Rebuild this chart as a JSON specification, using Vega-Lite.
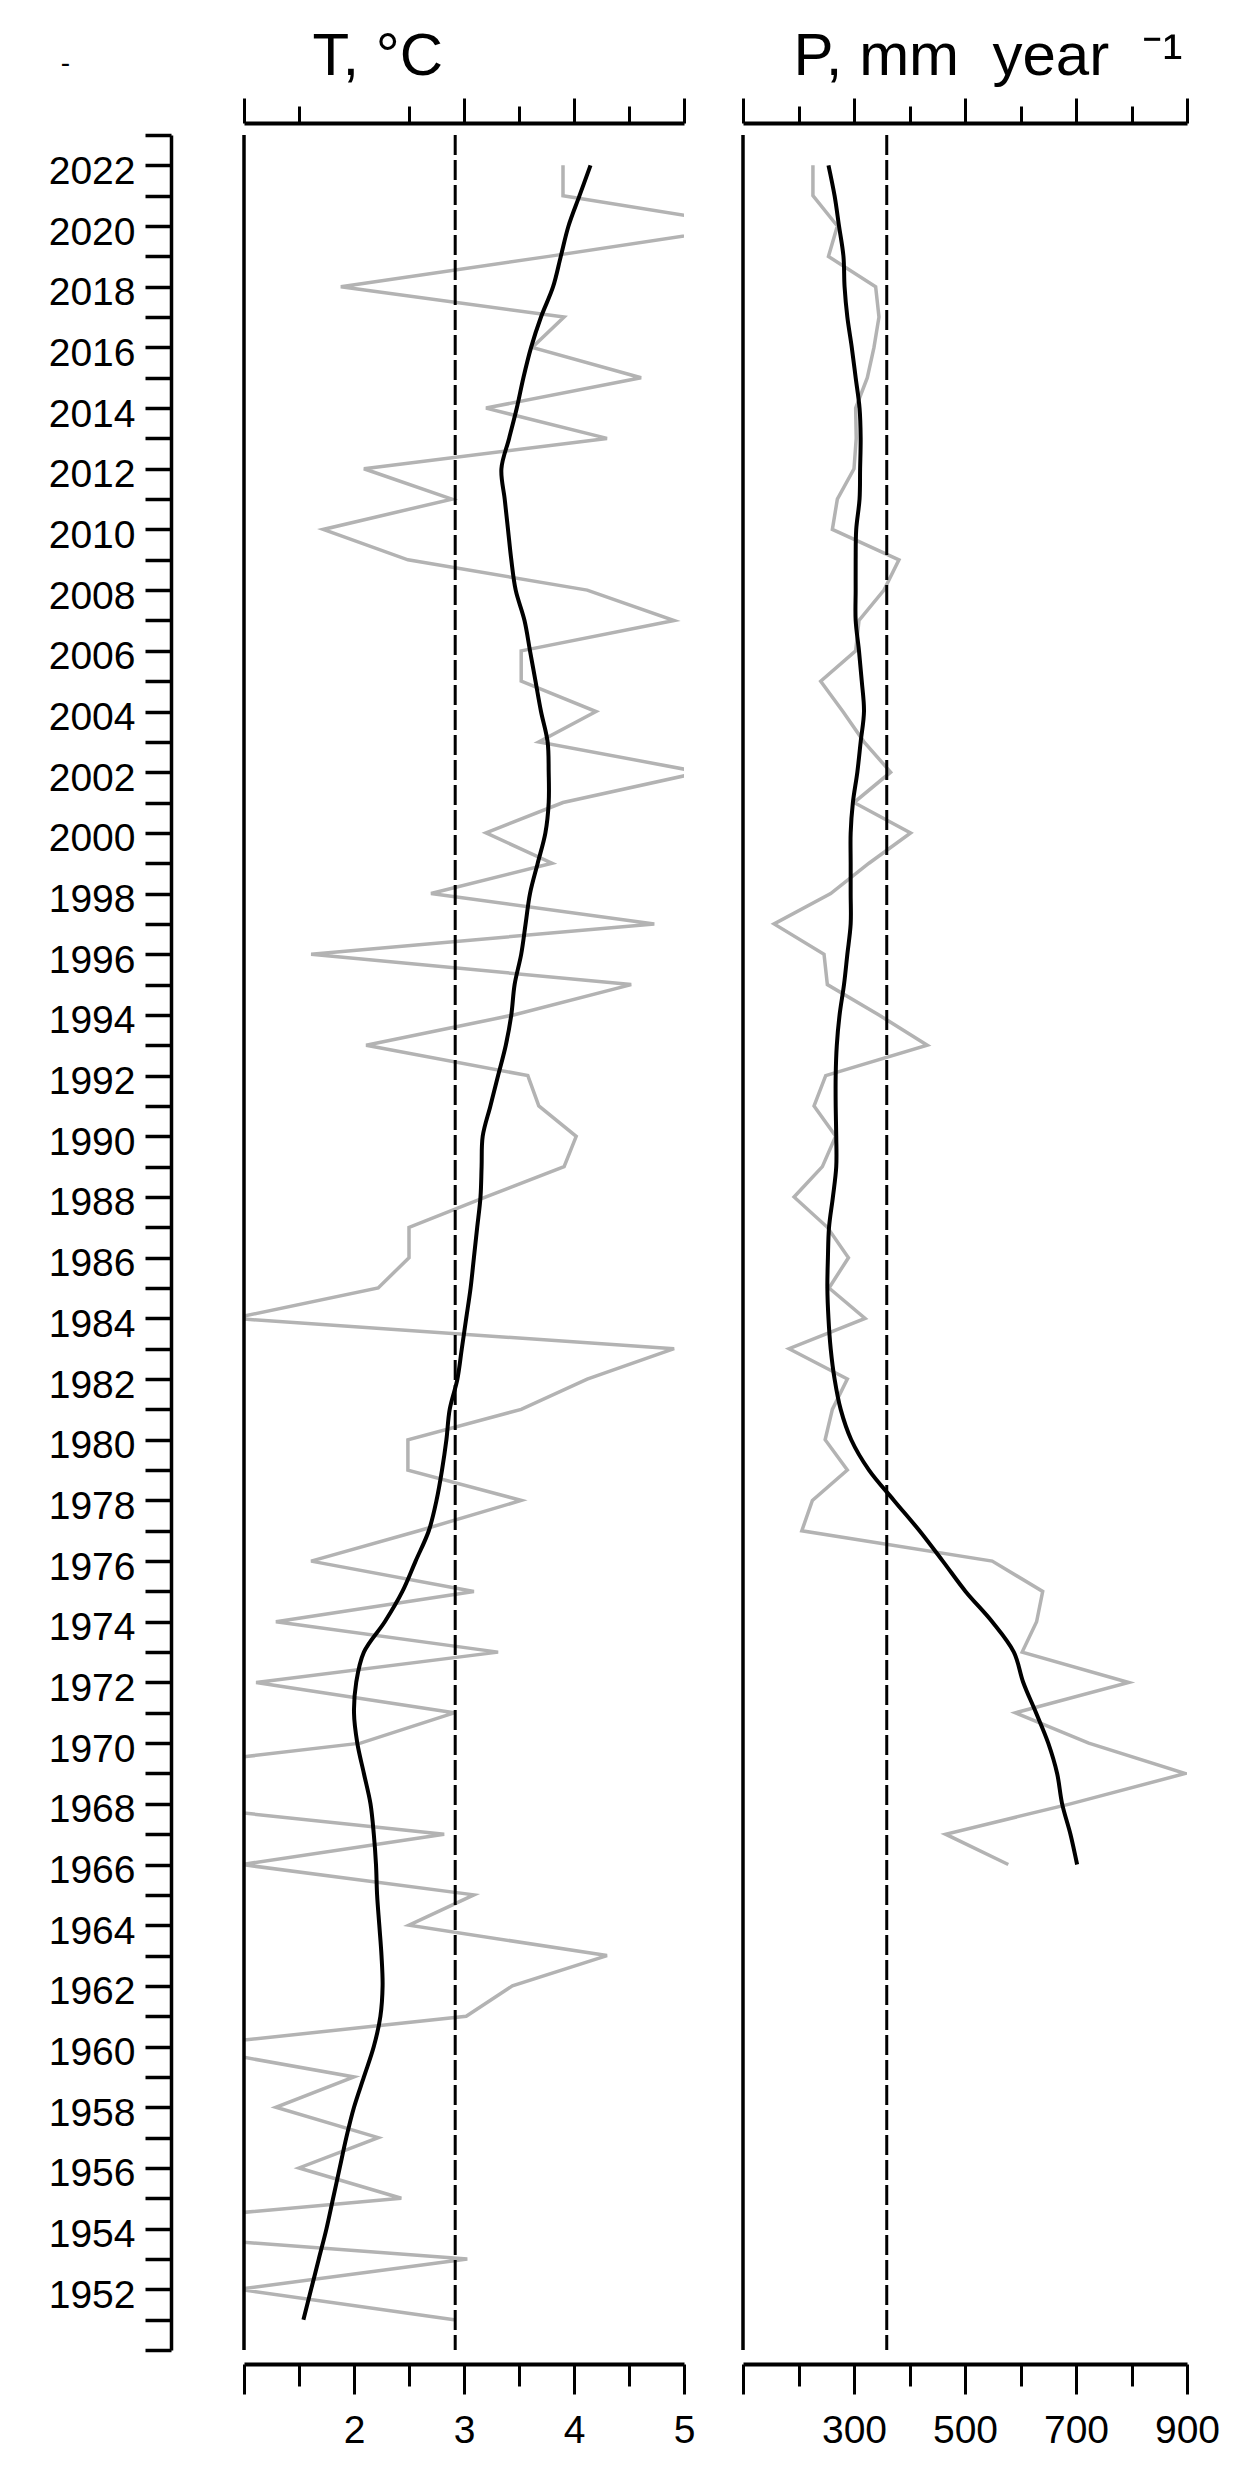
{
  "$schema": "https://vega.github.io/schema/vega-lite/v6.json",
  "background": "white",
  "padding": {"left": 48, "top": 26, "right": 10, "bottom": 10},
  "bounds": "flush",
  "spacing": 59,
  "config": {
    "view": {"stroke": null},
    "font": "Liberation Sans",
    "axis": {"grid": false, "labelFont": "Liberation Sans", "titleFont": "Liberation Sans", "labelColor": "#000", "titleColor": "#000", "domainColor": "#000", "tickColor": "#000", "labelFlush": false, "labelOverlap": false, "labelBound": false, "titleFontWeight": "normal"}
  },
  "datasets": {
    "temp": [
      {"year": 1951, "annual": 2.91, "smooth": 1.54},
      {"year": 1952, "annual": 0.95, "smooth": 1.61},
      {"year": 1953, "annual": 3.03, "smooth": 1.68},
      {"year": 1954, "annual": -0.65, "smooth": 1.75},
      {"year": 1955, "annual": 2.43, "smooth": 1.81},
      {"year": 1956, "annual": 1.50, "smooth": 1.87},
      {"year": 1957, "annual": 2.22, "smooth": 1.93},
      {"year": 1958, "annual": 1.29, "smooth": 2.00},
      {"year": 1959, "annual": 2.00, "smooth": 2.09},
      {"year": 1960, "annual": 0.45, "smooth": 2.18},
      {"year": 1961, "annual": 3.02, "smooth": 2.24},
      {"year": 1962, "annual": 3.44, "smooth": 2.26},
      {"year": 1963, "annual": 4.30, "smooth": 2.25},
      {"year": 1964, "annual": 2.50, "smooth": 2.23},
      {"year": 1965, "annual": 3.09, "smooth": 2.21},
      {"year": 1966, "annual": 0.98, "smooth": 2.20},
      {"year": 1967, "annual": 2.82, "smooth": 2.18},
      {"year": 1968, "annual": 0.20, "smooth": 2.15},
      {"year": 1969, "annual": -0.30, "smooth": 2.09},
      {"year": 1970, "annual": 2.06, "smooth": 2.03},
      {"year": 1971, "annual": 2.91, "smooth": 2.00},
      {"year": 1972, "annual": 1.11, "smooth": 2.02},
      {"year": 1973, "annual": 3.31, "smooth": 2.09},
      {"year": 1974, "annual": 1.29, "smooth": 2.28},
      {"year": 1975, "annual": 3.09, "smooth": 2.44},
      {"year": 1976, "annual": 1.61, "smooth": 2.56},
      {"year": 1977, "annual": 2.59, "smooth": 2.68},
      {"year": 1978, "annual": 3.52, "smooth": 2.75},
      {"year": 1979, "annual": 2.49, "smooth": 2.80},
      {"year": 1980, "annual": 2.49, "smooth": 2.84},
      {"year": 1981, "annual": 3.52, "smooth": 2.87},
      {"year": 1982, "annual": 4.12, "smooth": 2.94},
      {"year": 1983, "annual": 4.91, "smooth": 2.98},
      {"year": 1984, "annual": 0.90, "smooth": 3.02},
      {"year": 1985, "annual": 2.22, "smooth": 3.06},
      {"year": 1986, "annual": 2.50, "smooth": 3.09},
      {"year": 1987, "annual": 2.50, "smooth": 3.12},
      {"year": 1988, "annual": 3.20, "smooth": 3.15},
      {"year": 1989, "annual": 3.91, "smooth": 3.16},
      {"year": 1990, "annual": 4.02, "smooth": 3.17},
      {"year": 1991, "annual": 3.68, "smooth": 3.24},
      {"year": 1992, "annual": 3.58, "smooth": 3.31},
      {"year": 1993, "annual": 2.11, "smooth": 3.38},
      {"year": 1994, "annual": 3.45, "smooth": 3.43},
      {"year": 1995, "annual": 4.52, "smooth": 3.46},
      {"year": 1996, "annual": 1.61, "smooth": 3.52},
      {"year": 1997, "annual": 4.73, "smooth": 3.56},
      {"year": 1998, "annual": 2.70, "smooth": 3.60},
      {"year": 1999, "annual": 3.80, "smooth": 3.67},
      {"year": 2000, "annual": 3.20, "smooth": 3.74},
      {"year": 2001, "annual": 3.90, "smooth": 3.77},
      {"year": 2002, "annual": 5.15, "smooth": 3.77},
      {"year": 2003, "annual": 3.68, "smooth": 3.76},
      {"year": 2004, "annual": 4.20, "smooth": 3.70},
      {"year": 2005, "annual": 3.52, "smooth": 3.65},
      {"year": 2006, "annual": 3.52, "smooth": 3.60},
      {"year": 2007, "annual": 4.91, "smooth": 3.55},
      {"year": 2008, "annual": 4.12, "smooth": 3.47},
      {"year": 2009, "annual": 2.49, "smooth": 3.43},
      {"year": 2010, "annual": 1.72, "smooth": 3.40},
      {"year": 2011, "annual": 2.89, "smooth": 3.37},
      {"year": 2012, "annual": 2.09, "smooth": 3.34},
      {"year": 2013, "annual": 4.30, "smooth": 3.41},
      {"year": 2014, "annual": 3.20, "smooth": 3.48},
      {"year": 2015, "annual": 4.61, "smooth": 3.54},
      {"year": 2016, "annual": 3.62, "smooth": 3.61},
      {"year": 2017, "annual": 3.91, "smooth": 3.70},
      {"year": 2018, "annual": 1.88, "smooth": 3.81},
      {"year": 2019, "annual": 3.77, "smooth": 3.88},
      {"year": 2020, "annual": 5.60, "smooth": 3.95},
      {"year": 2021, "annual": 3.90, "smooth": 4.05},
      {"year": 2022, "annual": 3.90, "smooth": 4.15}
    ],
    "precip": [
      {"year": 1966, "annual": 578, "smooth": 702},
      {"year": 1967, "annual": 465, "smooth": 690},
      {"year": 1968, "annual": 690, "smooth": 675},
      {"year": 1969, "annual": 897, "smooth": 666},
      {"year": 1970, "annual": 723, "smooth": 650},
      {"year": 1971, "annual": 591, "smooth": 628},
      {"year": 1972, "annual": 795, "smooth": 605},
      {"year": 1973, "annual": 603, "smooth": 588},
      {"year": 1974, "annual": 629, "smooth": 549},
      {"year": 1975, "annual": 640, "smooth": 501},
      {"year": 1976, "annual": 549, "smooth": 460},
      {"year": 1977, "annual": 206, "smooth": 418},
      {"year": 1978, "annual": 225, "smooth": 372},
      {"year": 1979, "annual": 288, "smooth": 327},
      {"year": 1980, "annual": 248, "smooth": 295},
      {"year": 1981, "annual": 261, "smooth": 276},
      {"year": 1982, "annual": 288, "smooth": 265},
      {"year": 1983, "annual": 183, "smooth": 258},
      {"year": 1984, "annual": 320, "smooth": 254},
      {"year": 1985, "annual": 255, "smooth": 252},
      {"year": 1986, "annual": 290, "smooth": 253},
      {"year": 1987, "annual": 252, "smooth": 255},
      {"year": 1988, "annual": 192, "smooth": 262},
      {"year": 1989, "annual": 243, "smooth": 268},
      {"year": 1990, "annual": 267, "smooth": 268},
      {"year": 1991, "annual": 228, "smooth": 267},
      {"year": 1992, "annual": 249, "smooth": 267},
      {"year": 1993, "annual": 432, "smooth": 269},
      {"year": 1994, "annual": 345, "smooth": 274},
      {"year": 1995, "annual": 252, "smooth": 282},
      {"year": 1996, "annual": 246, "smooth": 288},
      {"year": 1997, "annual": 156, "smooth": 294},
      {"year": 1998, "annual": 258, "smooth": 294},
      {"year": 1999, "annual": 327, "smooth": 294},
      {"year": 2000, "annual": 402, "smooth": 294},
      {"year": 2001, "annual": 300, "smooth": 298},
      {"year": 2002, "annual": 366, "smooth": 306},
      {"year": 2003, "annual": 318, "smooth": 312},
      {"year": 2004, "annual": 280, "smooth": 318},
      {"year": 2005, "annual": 240, "smooth": 314},
      {"year": 2006, "annual": 303, "smooth": 309},
      {"year": 2007, "annual": 309, "smooth": 303},
      {"year": 2008, "annual": 354, "smooth": 303},
      {"year": 2009, "annual": 381, "smooth": 303},
      {"year": 2010, "annual": 261, "smooth": 304},
      {"year": 2011, "annual": 270, "smooth": 310},
      {"year": 2012, "annual": 300, "smooth": 311},
      {"year": 2013, "annual": 304, "smooth": 312},
      {"year": 2014, "annual": 303, "smooth": 310},
      {"year": 2015, "annual": 324, "smooth": 303},
      {"year": 2016, "annual": 336, "smooth": 296},
      {"year": 2017, "annual": 345, "smooth": 288},
      {"year": 2018, "annual": 339, "smooth": 283},
      {"year": 2019, "annual": 254, "smooth": 281},
      {"year": 2020, "annual": 270, "smooth": 273},
      {"year": 2021, "annual": 226, "smooth": 265},
      {"year": 2022, "annual": 226, "smooth": 254}
    ],
    "means": [{"T": 2.92, "P": 359}]
  },
  "hconcat": [
    {
      "width": 440,
      "height": 2215,
      "resolve": {"axis": {"x": "independent"}},
      "layer": [
        {
          "data": {"name": "temp"},
          "mark": {"type": "line", "color": "#b3b3b3", "strokeWidth": 3.5, "clip": true},
          "encoding": {
            "x": {"field": "annual", "type": "quantitative", "scale": {"domain": [1, 5], "nice": false, "zero": false},
              "axis": {"orient": "bottom", "offset": 14, "values": [1, 2, 3, 4, 5], "tickSize": 30, "tickWidth": 3, "domainWidth": 4, "labelFontSize": 39, "labelPadding": 17, "labelExpr": "datum.value == 1 ? '' : datum.label", "title": null}},
            "y": {"field": "year", "type": "quantitative", "scale": {"domain": [1950, 2023], "nice": false, "zero": false},
              "axis": {"orient": "left", "offset": 73, "values": [1950,1951,1952,1953,1954,1955,1956,1957,1958,1959,1960,1961,1962,1963,1964,1965,1966,1967,1968,1969,1970,1971,1972,1973,1974,1975,1976,1977,1978,1979,1980,1981,1982,1983,1984,1985,1986,1987,1988,1989,1990,1991,1992,1993,1994,1995,1996,1997,1998,1999,2000,2001,2002,2003,2004,2005,2006,2007,2008,2009,2010,2011,2012,2013,2014,2015,2016,2017,2018,2019,2020,2021,2022,2023], "format": "d", "labelExpr": "datum.value % 2 == 0 && datum.value > 1950 ? datum.label : ''", "tickSize": 26, "tickWidth": 3.5, "domainWidth": 3.5, "labelFontSize": 39, "labelPadding": 10, "labelOffset": 6, "title": "-", "titleAngle": 0, "titleX": -106, "titleY": -72, "titleAlign": "center", "titleBaseline": "middle", "titleFontSize": 28}},
            "order": {"field": "year", "type": "quantitative"}
          }
        },
        {
          "data": {"name": "temp"},
          "mark": {"type": "line", "color": "#000000", "strokeWidth": 4, "interpolate": "catmull-rom", "clip": true},
          "encoding": {
            "x": {"field": "smooth", "type": "quantitative", "scale": {"domain": [1, 5], "nice": false, "zero": false},
              "axis": {"orient": "bottom", "offset": 14, "values": [1.5, 2.5, 3.5, 4.5], "tickSize": 22, "tickWidth": 3, "domain": false, "labels": false, "title": null}},
            "y": {"field": "year", "type": "quantitative", "scale": {"domain": [1950, 2023], "nice": false, "zero": false},
              "axis": {"orient": "left", "offset": 73, "values": [1950,1951,1952,1953,1954,1955,1956,1957,1958,1959,1960,1961,1962,1963,1964,1965,1966,1967,1968,1969,1970,1971,1972,1973,1974,1975,1976,1977,1978,1979,1980,1981,1982,1983,1984,1985,1986,1987,1988,1989,1990,1991,1992,1993,1994,1995,1996,1997,1998,1999,2000,2001,2002,2003,2004,2005,2006,2007,2008,2009,2010,2011,2012,2013,2014,2015,2016,2017,2018,2019,2020,2021,2022,2023], "format": "d", "labelExpr": "datum.value % 2 == 0 && datum.value > 1950 ? datum.label : ''", "tickSize": 26, "tickWidth": 3.5, "domainWidth": 3.5, "labelFontSize": 39, "labelPadding": 10, "labelOffset": 6, "title": "-", "titleAngle": 0, "titleX": -106, "titleY": -72, "titleAlign": "center", "titleBaseline": "middle", "titleFontSize": 28}},
            "order": {"field": "year", "type": "quantitative"}
          }
        },
        {
          "data": {"name": "means"},
          "mark": {"type": "rule", "color": "#000000", "strokeWidth": 3, "strokeDash": [20, 5]},
          "encoding": {
            "x": {"field": "T", "type": "quantitative", "scale": {"domain": [1, 5], "nice": false, "zero": false},
              "axis": {"orient": "top", "offset": 12, "values": [1, 3, 4, 5], "tickSize": 25, "tickWidth": 3, "domainWidth": 4, "labels": false, "title": "T, °C", "titleFontSize": 60, "titleX": 68, "titleY": -49, "titleAlign": "left", "titleBaseline": "alphabetic"}}
          }
        },
        {
          "data": {"name": "means"},
          "mark": {"type": "rule", "color": "#000000", "strokeWidth": 3.5},
          "encoding": {
            "x": {"datum": 1, "type": "quantitative", "scale": {"domain": [1, 5], "nice": false, "zero": false},
              "axis": {"orient": "top", "offset": 12, "values": [1.5, 2.5, 3.5, 4.5], "tickSize": 17, "tickWidth": 3, "domain": false, "labels": false, "title": null}}
          }
        }
      ]
    },
    {
      "width": 444,
      "height": 2215,
      "resolve": {"axis": {"x": "independent"}},
      "layer": [
        {
          "data": {"name": "precip"},
          "mark": {"type": "line", "color": "#b3b3b3", "strokeWidth": 3.5, "clip": true},
          "encoding": {
            "x": {"field": "annual", "type": "quantitative", "scale": {"domain": [100, 900], "nice": false, "zero": false},
              "axis": {"orient": "bottom", "offset": 14, "values": [100, 300, 500, 700, 900], "tickSize": 30, "tickWidth": 3, "domainWidth": 4, "labelFontSize": 39, "labelPadding": 17, "labelExpr": "datum.value == 100 ? '' : datum.label", "title": null}},
            "y": {"field": "year", "type": "quantitative", "scale": {"domain": [1950, 2023], "nice": false, "zero": false}, "axis": null},
            "order": {"field": "year", "type": "quantitative"}
          }
        },
        {
          "data": {"name": "precip"},
          "mark": {"type": "line", "color": "#000000", "strokeWidth": 4, "interpolate": "catmull-rom", "clip": true},
          "encoding": {
            "x": {"field": "smooth", "type": "quantitative", "scale": {"domain": [100, 900], "nice": false, "zero": false},
              "axis": {"orient": "bottom", "offset": 14, "values": [200, 400, 600, 800], "tickSize": 22, "tickWidth": 3, "domain": false, "labels": false, "title": null}},
            "y": {"field": "year", "type": "quantitative", "scale": {"domain": [1950, 2023], "nice": false, "zero": false}, "axis": null},
            "order": {"field": "year", "type": "quantitative"}
          }
        },
        {
          "data": {"name": "means"},
          "mark": {"type": "rule", "color": "#000000", "strokeWidth": 3, "strokeDash": [20, 5]},
          "encoding": {
            "x": {"field": "P", "type": "quantitative", "scale": {"domain": [100, 900], "nice": false, "zero": false},
              "axis": {"orient": "top", "offset": 12, "values": [100, 300, 500, 700, 900], "tickSize": 25, "tickWidth": 3, "domainWidth": 4, "labels": false, "title": "P, mm\u00a0\u00a0year\u00a0\u00a0\u207b\u00b9", "titleFontSize": 60, "titleX": 50, "titleY": -49, "titleAlign": "left", "titleBaseline": "alphabetic"}}
          }
        },
        {
          "data": {"name": "means"},
          "mark": {"type": "rule", "color": "#000000", "strokeWidth": 3.5},
          "encoding": {
            "x": {"datum": 100, "type": "quantitative", "scale": {"domain": [100, 900], "nice": false, "zero": false},
              "axis": {"orient": "top", "offset": 12, "values": [200, 400, 600, 800], "tickSize": 17, "tickWidth": 3, "domain": false, "labels": false, "title": null}}
          }
        }
      ]
    }
  ]
}
